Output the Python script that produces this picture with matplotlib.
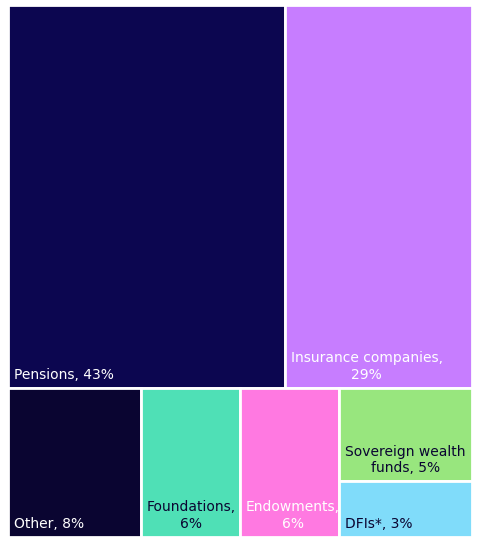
import matplotlib
matplotlib.use("Agg")
import matplotlib.pyplot as plt
from matplotlib.patches import Rectangle

top_labels = ["Pensions, 43%", "Insurance companies,\n29%"]
top_values = [43, 29]
top_colors = ["#0c0650", "#c77dff"]
top_text = ["white", "white"]

bottom_labels = ["Other, 8%", "Foundations,\n6%", "Endowments,\n6%"]
bottom_values = [8, 6, 6]
bottom_colors = ["#0a0531", "#4fe0b6", "#ff79e1"]
bottom_text = ["white", "#0a0531", "white"]

stack_labels = ["Sovereign wealth\nfunds, 5%", "DFIs*, 3%"]
stack_values = [5, 3]
stack_colors = ["#98e67e", "#80dcfa"]
stack_text = ["#0a0531", "#0a0531"]

fig = plt.figure(figsize=(4.8, 5.45), dpi=100)
ax = fig.add_axes([8/480, 8/545, 464/480, 532/545])
ax.set_xlim(0, 1); ax.set_ylim(0, 1); ax.axis("off")

total = sum(top_values) + sum(bottom_values) + sum(stack_values)
top_h = sum(top_values) / total
bot_h = 1 - top_h

def cell(x, y, w, h, color, label, tc):
    ax.add_patch(Rectangle((x, y), w, h, facecolor=color, edgecolor="white", lw=2))
    ax.text(x + 0.012, y + 0.012, label, color=tc, fontsize=10, ha="left", va="bottom",
            multialignment="center")

x = 0
for v, c, l, t in zip(top_values, top_colors, top_labels, top_text):
    w = v / sum(top_values)
    cell(x, bot_h, w, top_h, c, l, t)
    x += w

rest = sum(bottom_values) + sum(stack_values)
x = 0
for v, c, l, t in zip(bottom_values, bottom_colors, bottom_labels, bottom_text):
    w = v / rest
    cell(x, 0, w, bot_h, c, l, t)
    x += w
w = sum(stack_values) / rest
y = bot_h
for v, c, l, t in zip(stack_values, stack_colors, stack_labels, stack_text):
    h = v / sum(stack_values) * bot_h
    y -= h
    cell(x, y, w, h, c, l, t)

fig.savefig("out.png", dpi=100, facecolor="white")
